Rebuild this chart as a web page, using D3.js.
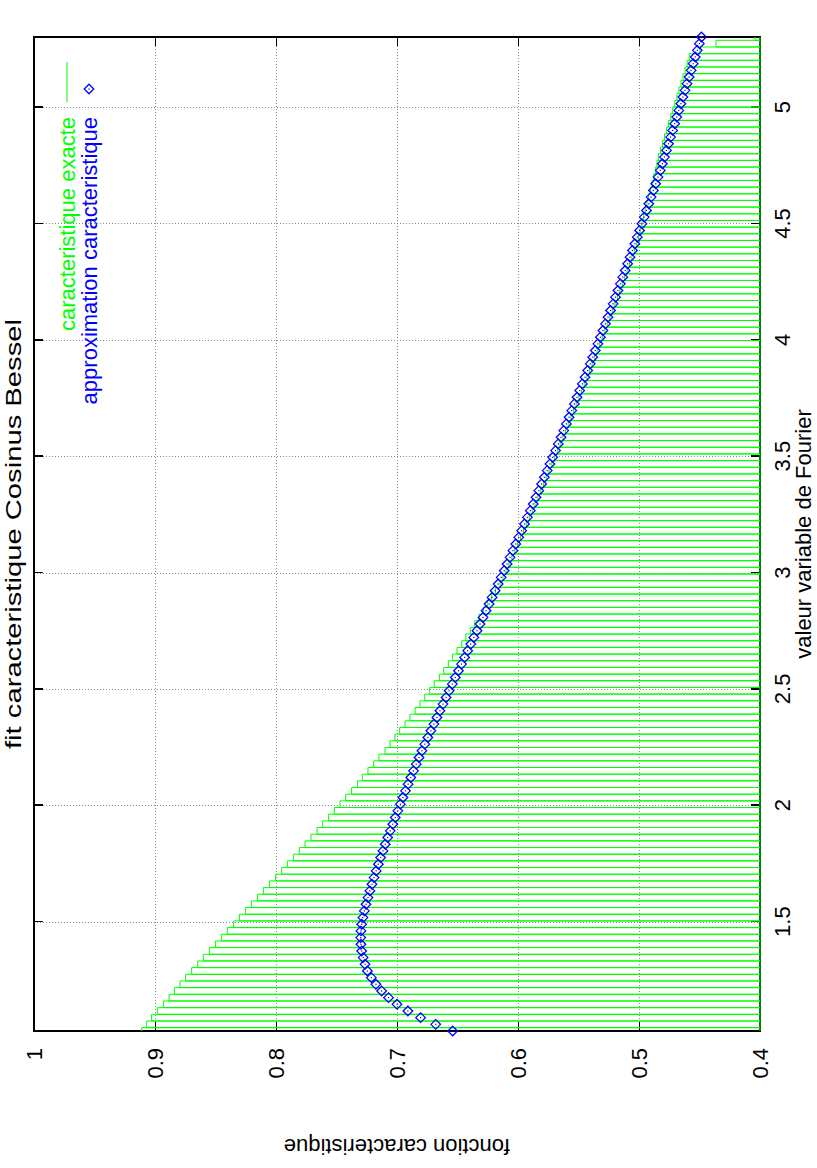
<!DOCTYPE html>
<html>
<head>
<meta charset="utf-8">
<script src="https://cdn.jsdelivr.net/npm/d3@7"></script>
<style>
  html, body { margin: 0; padding: 0; background: #ffffff; }
  svg { display: block; }
  text { font-family: "Liberation Sans", Arial, Helvetica, sans-serif; fill: #000; }
</style>
</head>
<body>
<svg id="chart" width="817" height="1168"></svg>
<script>
// ---------------- data ----------------
const titleText = "fit caracteristique Cosinus Bessel";
const xLabelText = "valeur variable de Fourier";
const yLabelText = "fonction caracteristique";
const seriesNames = ["caracteristique exacte", "approximation caracteristique"];

const xTicks = [1.5, 2, 2.5, 3, 3.5, 4, 4.5, 5];
const yTicks = [0.4, 0.5, 0.6, 0.7, 0.8, 0.9, 1];
const xTickLabels = ["1.5", "2", "2.5", "3", "3.5", "4", "4.5", "5"];
const yTickLabels = ["0.4", "0.5", "0.6", "0.7", "0.8", "0.9", "1"];

// Fourier variable (sample abscissae)
const fourierX = [
  1.0320, 1.0607, 1.0893, 1.1180, 1.1467, 1.1753, 1.2040, 1.2327, 1.2613, 1.2900, 1.3187, 1.3473, 1.3760, 1.4047, 1.4333,
  1.4620, 1.4907, 1.5193, 1.5480, 1.5767, 1.6053, 1.6340, 1.6627, 1.6913, 1.7200, 1.7487, 1.7773, 1.8060, 1.8347, 1.8633,
  1.8920, 1.9207, 1.9493, 1.9780, 2.0067, 2.0353, 2.0640, 2.0927, 2.1213, 2.1500, 2.1787, 2.2073, 2.2360, 2.2647, 2.2933,
  2.3220, 2.3507, 2.3793, 2.4080, 2.4367, 2.4653, 2.4940, 2.5227, 2.5513, 2.5800, 2.6087, 2.6373, 2.6660, 2.6947, 2.7233,
  2.7520, 2.7807, 2.8093, 2.8380, 2.8667, 2.8953, 2.9240, 2.9527, 2.9813, 3.0100, 3.0387, 3.0673, 3.0960, 3.1247, 3.1533,
  3.1820, 3.2107, 3.2393, 3.2680, 3.2967, 3.3253, 3.3540, 3.3827, 3.4113, 3.4400, 3.4687, 3.4973, 3.5260, 3.5547, 3.5833,
  3.6120, 3.6407, 3.6693, 3.6980, 3.7267, 3.7553, 3.7840, 3.8127, 3.8413, 3.8700, 3.8987, 3.9273, 3.9560, 3.9847, 4.0133,
  4.0420, 4.0707, 4.0993, 4.1280, 4.1567, 4.1853, 4.2140, 4.2427, 4.2713, 4.3000, 4.3287, 4.3573, 4.3860, 4.4147, 4.4433,
  4.4720, 4.5007, 4.5293, 4.5580, 4.5867, 4.6153, 4.6440, 4.6727, 4.7013, 4.7300, 4.7587, 4.7873, 4.8160, 4.8447, 4.8733,
  4.9020, 4.9307, 4.9593, 4.9880, 5.0167, 5.0453, 5.0740, 5.1027, 5.1313, 5.1600, 5.1887, 5.2173, 5.2460, 5.2747, 5.3033
];

// caracteristique exacte (green boxes)
const exactValues = [
  0.9110, 0.9069, 0.9028, 0.8981, 0.8931, 0.8884, 0.8840, 0.8793, 0.8747, 0.8697, 0.8647, 0.8601, 0.8551, 0.8501, 0.8452,
  0.8402, 0.8350, 0.8303, 0.8253, 0.8204, 0.8154, 0.8105, 0.8055, 0.8003, 0.7953, 0.7906, 0.7857, 0.7807, 0.7760, 0.7711,
  0.7661, 0.7614, 0.7565, 0.7518, 0.7471, 0.7424, 0.7375, 0.7327, 0.7287, 0.7240, 0.7193, 0.7149, 0.7099, 0.7058, 0.7017,
  0.6978, 0.6934, 0.6893, 0.6851, 0.6810, 0.6771, 0.6730, 0.6692, 0.6650, 0.6614, 0.6576, 0.6540, 0.6504, 0.6465, 0.6432,
  0.6394, 0.6358, 0.6322, 0.6287, 0.6254, 0.6220, 0.6187, 0.6149, 0.6124, 0.6099, 0.6075, 0.6051, 0.6027, 0.6003, 0.5979,
  0.5955, 0.5931, 0.5907, 0.5883, 0.5859, 0.5836, 0.5813, 0.5790, 0.5767, 0.5744, 0.5721, 0.5698, 0.5675, 0.5652, 0.5629,
  0.5607, 0.5585, 0.5563, 0.5541, 0.5519, 0.5497, 0.5475, 0.5453, 0.5431, 0.5409, 0.5388, 0.5367, 0.5346, 0.5325, 0.5304,
  0.5283, 0.5262, 0.5241, 0.5220, 0.5199, 0.5179, 0.5159, 0.5139, 0.5119, 0.5099, 0.5079, 0.5059, 0.5039, 0.5019, 0.5004,
  0.4990, 0.4976, 0.4962, 0.4948, 0.4934, 0.4920, 0.4906, 0.4892, 0.4878, 0.4864, 0.4852, 0.4840, 0.4823, 0.4806, 0.4789,
  0.4772, 0.4755, 0.4738, 0.4721, 0.4704, 0.4687, 0.4670, 0.4653, 0.4636, 0.4619, 0.4602, 0.4585, 0.4496, 0.4364, 0.4041
];

// approximation caracteristique (blue diamonds)
const approxValues = [
  0.6540, 0.6680, 0.6805, 0.6910, 0.7000, 0.7070, 0.7127, 0.7174, 0.7212, 0.7245, 0.7264, 0.7280, 0.7292, 0.7298, 0.7300,
  0.7298, 0.7292, 0.7282, 0.7270, 0.7256, 0.7240, 0.7224, 0.7207, 0.7190, 0.7172, 0.7154, 0.7135, 0.7116, 0.7097, 0.7077,
  0.7056, 0.7035, 0.7014, 0.6993, 0.6972, 0.6951, 0.6930, 0.6908, 0.6886, 0.6864, 0.6841, 0.6818, 0.6794, 0.6770, 0.6745,
  0.6720, 0.6695, 0.6670, 0.6645, 0.6620, 0.6594, 0.6569, 0.6543, 0.6518, 0.6492, 0.6467, 0.6441, 0.6416, 0.6390, 0.6365,
  0.6339, 0.6314, 0.6289, 0.6264, 0.6239, 0.6214, 0.6189, 0.6164, 0.6139, 0.6114, 0.6090, 0.6066, 0.6042, 0.6018, 0.5994,
  0.5970, 0.5946, 0.5922, 0.5898, 0.5874, 0.5851, 0.5828, 0.5805, 0.5782, 0.5759, 0.5736, 0.5713, 0.5690, 0.5667, 0.5644,
  0.5622, 0.5600, 0.5578, 0.5556, 0.5534, 0.5512, 0.5490, 0.5468, 0.5446, 0.5424, 0.5403, 0.5382, 0.5361, 0.5340, 0.5319,
  0.5298, 0.5277, 0.5256, 0.5235, 0.5214, 0.5194, 0.5174, 0.5154, 0.5134, 0.5114, 0.5094, 0.5074, 0.5054, 0.5034, 0.5014,
  0.4995, 0.4976, 0.4957, 0.4938, 0.4919, 0.4900, 0.4881, 0.4862, 0.4843, 0.4824, 0.4807, 0.4790, 0.4773, 0.4756, 0.4739,
  0.4722, 0.4705, 0.4688, 0.4671, 0.4654, 0.4637, 0.4620, 0.4603, 0.4586, 0.4569, 0.4552, 0.4535, 0.4518, 0.4501, 0.4484
];

// ---------------- drawing ----------------
const PAGE_W = 817, PAGE_H = 1168;
const GREEN = "#00ff00", BLUE = "#0000ff";
const FS = 22;

const svg = d3.select("#chart");
svg.append("rect").attr("width", PAGE_W).attr("height", PAGE_H).attr("fill", "#fff");

// the whole (landscape) plot is turned a quarter turn counter-clockwise
const g = svg.append("g").attr("transform", `translate(0,${PAGE_H}) rotate(-90)`);

const pL = 137, pR = 1131, pT = 34, pB = 760;
const x = d3.scaleLinear().domain([fourierX[0], fourierX[fourierX.length - 1]]).range([pL, pR]);
const y = d3.scaleLinear().domain([0.4, 1.0]).range([pB, pT]);

// clip
const defs = svg.append("defs");
defs.append("clipPath").attr("id", "plotclip")
  .append("rect").attr("x", pL).attr("y", pT).attr("width", pR - pL).attr("height", pB - pT + 1);

// grid
const grid = g.append("g").attr("shape-rendering", "crispEdges")
  .attr("stroke", "#8a8a8a").attr("stroke-width", 1).attr("stroke-dasharray", "1,2");
grid.selectAll("line.gx").data(xTicks).join("line").attr("class", "gx")
  .attr("x1", d => x(d)).attr("x2", d => x(d)).attr("y1", pT).attr("y2", pB);
grid.selectAll("line.gy").data(yTicks.filter(d => d > 0.4 && d < 1)).join("line").attr("class", "gy")
  .attr("x1", pL).attr("x2", pR).attr("y1", d => y(d)).attr("y2", d => y(d));

// border
g.append("rect").attr("x", pL).attr("y", pT).attr("width", pR - pL).attr("height", pB - pT)
  .attr("fill", "none").attr("stroke", "#000").attr("stroke-width", 1.5).attr("shape-rendering", "crispEdges");

// axes (ticks inward, mirrored)
const fmtX = d => xTickLabels[xTicks.indexOf(d)];
const fmtY = d => yTickLabels[yTicks.indexOf(d)];
const axB = g.append("g").attr("transform", `translate(0,${pB})`)
  .call(d3.axisBottom(x).tickValues(xTicks).tickFormat(fmtX).tickSizeInner(-9).tickSizeOuter(0).tickPadding(14));
const axL = g.append("g").attr("transform", `translate(${pL},0)`)
  .call(d3.axisLeft(y).tickValues(yTicks).tickFormat(fmtY).tickSizeInner(-9).tickSizeOuter(0).tickPadding(17));
const axT = g.append("g").attr("transform", `translate(0,${pT})`)
  .call(d3.axisTop(x).tickValues(xTicks).tickFormat("").tickSizeInner(-9).tickSizeOuter(0));
const axR = g.append("g").attr("transform", `translate(${pR},0)`)
  .call(d3.axisRight(y).tickValues(yTicks).tickFormat("").tickSizeInner(-9).tickSizeOuter(0));
[axB, axL, axT, axR].forEach(a => {
  a.select(".domain").remove();
  a.selectAll(".tick line").attr("stroke", "#000").attr("stroke-width", 1.5).attr("shape-rendering", "crispEdges");
  a.selectAll("text").attr("font-size", FS).attr("font-family", '"Liberation Sans", Arial, sans-serif').attr("fill", "#000");
});

// green boxes
const n = fourierX.length;
const boxes = fourierX.map((xv, i) => {
  const dl = i > 0 ? (xv - fourierX[i - 1]) / 2 : (fourierX[1] - xv) / 2;
  const dr = i < n - 1 ? (fourierX[i + 1] - xv) / 2 : (xv - fourierX[n - 2]) / 2;
  return { x0: xv - dl, x1: xv + dr, v: exactValues[i] };
});
g.append("g").attr("clip-path", "url(#plotclip)")
  .selectAll("path").data(boxes).join("path")
  .attr("d", d => `M${x(d.x0)},${y(0.4)}L${x(d.x0)},${y(d.v)}L${x(d.x1)},${y(d.v)}L${x(d.x1)},${y(0.4)}Z`)
  .attr("fill", "none").attr("stroke", GREEN).attr("stroke-width", 1);

// blue diamonds
const diamond = "M0,-4.8L4.8,0L0,4.8L-4.8,0Z";
const pts = g.append("g").selectAll("g").data(fourierX.map((xv, i) => [xv, approxValues[i]])).join("g")
  .attr("transform", d => `translate(${x(d[0])},${y(d[1])})`);
pts.append("path").attr("d", diamond).attr("fill", "none").attr("stroke", BLUE).attr("stroke-width", 1.25);
pts.append("rect").attr("x", -0.6).attr("y", -0.6).attr("width", 1.2).attr("height", 1.2).attr("fill", BLUE);

// legend
const leg = g.append("g");
leg.append("text").attr("x", 1051).attr("y", 75).attr("text-anchor", "end")
  .attr("font-size", FS).style("fill", GREEN).text(seriesNames[0]);
leg.append("line").attr("x1", 1066).attr("x2", 1106).attr("y1", 67).attr("y2", 67)
  .attr("stroke", GREEN).attr("stroke-width", 1);
leg.append("text").attr("x", 1051).attr("y", 97).attr("text-anchor", "end")
  .attr("font-size", FS).style("fill", BLUE).text(seriesNames[1]);
const ld = leg.append("g").attr("transform", "translate(1079,89)");
ld.append("path").attr("d", diamond).attr("fill", "none").attr("stroke", BLUE).attr("stroke-width", 1.25);
ld.append("rect").attr("x", -0.6).attr("y", -0.6).attr("width", 1.2).attr("height", 1.2).attr("fill", BLUE);

// title and axis labels
g.append("text").attr("x", (pL + pR) / 2).attr("y", 20.5).attr("text-anchor", "middle")
  .attr("font-size", 22).attr("textLength", 430).attr("lengthAdjust", "spacingAndGlyphs").text(titleText);
g.append("text").attr("x", (pL + pR) / 2).attr("y", 811).attr("text-anchor", "middle")
  .attr("font-size", FS).text(xLabelText);
g.append("text").attr("transform", "translate(29,397) rotate(-90)").attr("text-anchor", "middle")
  .attr("font-size", FS).text(yLabelText);
</script>
</body>
</html>
